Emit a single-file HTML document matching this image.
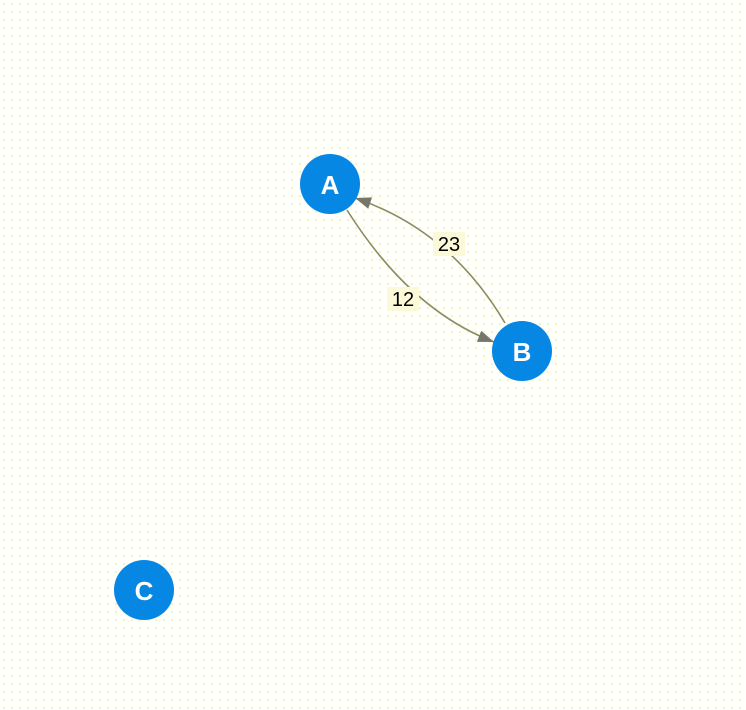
<!DOCTYPE html>
<html><head><meta charset="utf-8"><style>
html,body{margin:0;padding:0;}
body{width:746px;height:710px;overflow:hidden;background:#fffffb;
background-image:radial-gradient(circle,#f3f0a8 0.8px,transparent 1px);background-size:8px 8px;}
svg{position:absolute;left:0;top:0;}
</style></head><body>
<svg width="746" height="710" xmlns="http://www.w3.org/2000/svg">
<defs>
<marker id="ar2" viewBox="0 0 16 12" markerWidth="16" markerHeight="12" refX="16" refY="6" orient="auto" markerUnits="userSpaceOnUse">
<path d="M0,0 L16,6 L0,12 z" fill="#76766a"/>
</marker>
</defs>
<path d="M347,210 Q410,310 494,342" fill="none" stroke="#8c8c62" stroke-width="1.6" marker-end="url(#ar2)"/>
<path d="M505,323 Q450,230 355,198" fill="none" stroke="#8c8c62" stroke-width="1.6" marker-end="url(#ar2)"/>
<rect x="387" y="287" width="32" height="24" fill="#fcf9d8"/>
<text x="403" y="306" font-family="Liberation Sans, sans-serif" font-size="20" text-anchor="middle" fill="#000">12</text>
<rect x="433" y="232" width="32" height="24" fill="#fcf9d8"/>
<text x="449" y="251" font-family="Liberation Sans, sans-serif" font-size="20" text-anchor="middle" fill="#000">23</text>
<circle cx="330" cy="184" r="30" fill="#0787e4"/>
<text x="330" y="194" font-family="Liberation Sans, sans-serif" font-size="26" font-weight="bold" text-anchor="middle" fill="#fff">A</text>
<circle cx="522" cy="351" r="30" fill="#0787e4"/>
<text x="522" y="361" font-family="Liberation Sans, sans-serif" font-size="26" font-weight="bold" text-anchor="middle" fill="#fff">B</text>
<circle cx="144" cy="590" r="30" fill="#0787e4"/>
<text x="144" y="600" font-family="Liberation Sans, sans-serif" font-size="26" font-weight="bold" text-anchor="middle" fill="#fff">C</text>
</svg>
</body></html>
